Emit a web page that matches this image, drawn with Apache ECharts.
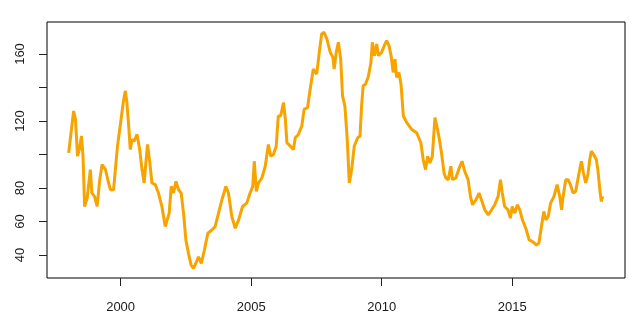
<!DOCTYPE html>
<html>
<head>
<meta charset="utf-8">
<script src="https://cdn.jsdelivr.net/npm/echarts@6/dist/echarts.min.js"></script>
<style>
html, body { margin: 0; padding: 0; background: #fff; }
#main { width: 640px; height: 333px; }
</style>
</head>
<body>
<div id="main"></div>
<script>
// time (decimal years) and values
var years = [
	1998.01, 1998.20, 1998.27, 1998.35, 1998.42, 1998.50, 1998.56, 1998.62, 1998.72, 1998.84,
	1998.90, 1999.00, 1999.10, 1999.20, 1999.29, 1999.42, 1999.54, 1999.61, 1999.73, 1999.80,
	1999.88, 2000.00, 2000.10, 2000.18, 2000.24, 2000.31, 2000.37, 2000.44, 2000.52, 2000.63,
	2000.73, 2000.82, 2000.90, 2001.03, 2001.12, 2001.20, 2001.33, 2001.45, 2001.58, 2001.71,
	2001.77, 2001.86, 2001.94, 2002.03, 2002.12, 2002.22, 2002.32, 2002.41, 2002.50, 2002.60,
	2002.70, 2002.79, 2002.88, 2002.98, 2003.09, 2003.21, 2003.34, 2003.50, 2003.62, 2003.75,
	2003.88, 2004.03, 2004.13, 2004.26, 2004.39, 2004.52, 2004.67, 2004.83, 2004.96, 2005.06,
	2005.12, 2005.20, 2005.28, 2005.41, 2005.54, 2005.66, 2005.75, 2005.85, 2005.96, 2006.04,
	2006.13, 2006.24, 2006.31, 2006.37, 2006.50, 2006.62, 2006.69, 2006.81, 2006.94, 2007.03,
	2007.16, 2007.26, 2007.38, 2007.51, 2007.61, 2007.70, 2007.79, 2007.90, 2008.03, 2008.13,
	2008.18, 2008.26, 2008.34, 2008.43, 2008.50, 2008.59, 2008.68, 2008.76, 2008.85, 2008.95,
	2009.08, 2009.17, 2009.23, 2009.29, 2009.38, 2009.48, 2009.59, 2009.64, 2009.72, 2009.81,
	2009.87, 2010.00, 2010.10, 2010.19, 2010.28, 2010.36, 2010.44, 2010.51, 2010.57, 2010.66,
	2010.74, 2010.83, 2010.96, 2011.15, 2011.34, 2011.50, 2011.59, 2011.68, 2011.76, 2011.85,
	2011.94, 2012.04, 2012.11, 2012.19, 2012.29, 2012.39, 2012.46, 2012.55, 2012.65, 2012.71,
	2012.84, 2012.97, 2013.08, 2013.18, 2013.31, 2013.40, 2013.48, 2013.61, 2013.73, 2013.82,
	2013.95, 2014.08, 2014.21, 2014.33, 2014.46, 2014.55, 2014.62, 2014.71, 2014.84, 2014.93,
	2015.00, 2015.10, 2015.20, 2015.29, 2015.39, 2015.52, 2015.65, 2015.78, 2015.93, 2016.02,
	2016.12, 2016.21, 2016.29, 2016.38, 2016.47, 2016.60, 2016.72, 2016.82, 2016.89, 2016.95,
	2017.05, 2017.14, 2017.23, 2017.33, 2017.43, 2017.56, 2017.65, 2017.73, 2017.81, 2017.90,
	2017.97, 2018.03, 2018.12, 2018.22, 2018.28, 2018.37, 2018.41, 2018.47
];
var values = [
	101, 126, 121, 99, 103, 111, 99, 69, 74, 91,
	77, 75, 69, 85, 94, 91, 83, 79, 79, 80,
	105, 119, 131, 138, 131, 117, 103, 109, 108, 112,
	103, 91, 83, 106, 95, 83, 82, 77, 69, 57,
	56, 65, 81, 77, 84, 79, 77, 65, 49, 41,
	34, 32, 35, 39, 35, 43, 53, 55, 57, 65,
	73, 81, 77, 63, 56, 61, 69, 71, 77, 81,
	96, 78, 83, 86, 93, 106, 99, 100, 105, 123,
	123, 131, 121, 107, 105, 103, 110, 112, 117, 127,
	128, 139, 151, 148, 161, 172, 173, 169, 161, 158,
	151, 161, 167, 157, 135, 129, 109, 83, 91, 105,
	110, 111, 129, 141, 142, 146, 155, 167, 159, 166,
	159, 161, 165, 168, 165, 159, 149, 157, 146, 149,
	142, 123, 119, 115, 113, 107, 97, 91, 99, 95,
	99, 122, 117, 111, 101, 89, 86, 85, 93, 85,
	86, 92, 96, 90, 85, 75, 70, 73, 77, 73,
	67, 64, 67, 70, 75, 85, 77, 69, 67, 62,
	69, 65, 70, 67, 61, 56, 49, 48, 46, 47,
	57, 66, 61, 63, 71, 75, 82, 75, 67, 75,
	85, 85, 82, 77, 78, 89, 96, 89, 83, 88,
	97, 102, 100, 97, 91, 77, 72, 75
];
var xTicks = [2000, 2005, 2010, 2015];
var yTicks = [40, 60, 80, 100, 120, 140, 160];
var yLabels = [40, 60, 80, 120, 160];

var seriesData = [];
for (var i = 0; i < years.length; i++) {
	seriesData.push([years[i], values[i]]);
}

var myChart = echarts.init(document.getElementById('main'));
var option = {
	animation: false,
	backgroundColor: '#fff',
	grid: {
		left: 47, right: 15, top: 22, bottom: 55,
		show: true,
		borderColor: '#000',
		borderWidth: 1
	},
	xAxis: {
		type: 'value',
		min: 1997.18,
		max: 2019.32,
		axisLine: { show: false },
		splitLine: { show: false },
		axisTick: { show: true, length: 8, customValues: xTicks, lineStyle: { color: '#222' } },
		axisLabel: {
			customValues: xTicks,
			formatter: function (v) { return String(v); },
			margin: 23,
			color: '#1a1a1a',
			fontSize: 13,
			fontFamily: 'Liberation Sans'
		}
	},
	yAxis: {
		type: 'value',
		min: 26.3,
		max: 179.1,
		axisLine: { show: false },
		splitLine: { show: false },
		axisTick: { show: true, length: 8, customValues: yTicks, lineStyle: { color: '#222' } },
		axisLabel: {
			customValues: yLabels,
			formatter: function (v) { return String(v); },
			rotate: 90,
			margin: 20,
			color: '#1a1a1a',
			fontSize: 13,
			fontFamily: 'Liberation Sans'
		}
	},
	series: [
		{
			type: 'line',
			data: seriesData,
			showSymbol: false,
			lineStyle: { color: '#f7a400', width: 3 },
			itemStyle: { color: '#f7a400' }
		}
	]
};
myChart.setOption(option);
</script>
</body>
</html>
